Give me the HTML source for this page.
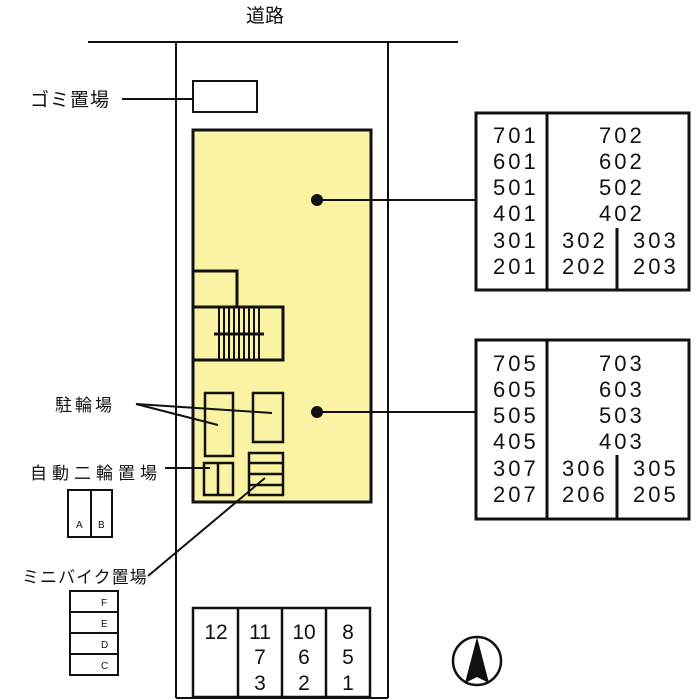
<!DOCTYPE html>
<html><head><meta charset="utf-8"><style>
html,body{margin:0;padding:0;background:#fff}
svg{display:block}
text{font-family:"Liberation Sans","Noto Sans CJK JP",sans-serif;fill:#111}
.n{font-size:22px;letter-spacing:3px}
</style></head><body>
<svg width="700" height="700" viewBox="0 0 700 700" xmlns="http://www.w3.org/2000/svg">
<g stroke="#111" fill="none" stroke-width="2">
<line x1="88" y1="42" x2="458" y2="42"/>
<line x1="176" y1="42" x2="176" y2="698"/>
<line x1="388" y1="42" x2="388" y2="698"/>
<line x1="176" y1="698" x2="388" y2="698"/>
<rect x="193" y="81" width="64" height="31"/>
<line x1="122" y1="99" x2="193" y2="99"/>
</g>
<text x="30" y="106" font-size="19" letter-spacing="1">ゴミ置場</text>
<text x="246" y="22" font-size="19">道路</text>
<rect x="193" y="130" width="178" height="372" fill="#fbf3a4" stroke="#111" stroke-width="3"/>
<g stroke="#111" fill="none" stroke-width="3">
<polyline points="193,271 237,271 237,307"/>
<rect x="193" y="307" width="90" height="53"/>
<line x1="214" y1="334" x2="264" y2="334"/>
</g>
<g stroke="#111" stroke-width="2">
<line x1="219" y1="307" x2="219" y2="360"/><line x1="224" y1="307" x2="224" y2="360"/>
<line x1="229" y1="307" x2="229" y2="360"/><line x1="234" y1="307" x2="234" y2="360"/>
<line x1="239" y1="307" x2="239" y2="360"/><line x1="244" y1="307" x2="244" y2="360"/>
<line x1="249" y1="307" x2="249" y2="360"/><line x1="254" y1="307" x2="254" y2="360"/>
<line x1="259" y1="307" x2="259" y2="360"/>
</g>
<g stroke="#111" fill="none" stroke-width="2.5">
<rect x="205" y="393" width="28" height="63"/>
<rect x="253" y="393" width="30" height="49"/>
<rect x="204" y="463" width="29" height="32"/>
<line x1="218" y1="463" x2="218" y2="495"/>
<rect x="249" y="453" width="34" height="42"/>
<line x1="249" y1="463" x2="283" y2="463"/><line x1="249" y1="474" x2="283" y2="474"/><line x1="249" y1="485" x2="283" y2="485"/>
</g>
<g stroke="#111" stroke-width="2" fill="none">
<line x1="136" y1="404" x2="218" y2="425"/>
<line x1="136" y1="404" x2="272" y2="413"/>
<line x1="165" y1="468" x2="210" y2="468"/>
<line x1="148" y1="576" x2="265" y2="478"/>
<line x1="317" y1="200" x2="476" y2="200"/>
<line x1="317" y1="412" x2="476" y2="412"/>
</g>
<circle cx="317" cy="200" r="6" fill="#111"/>
<circle cx="317" cy="412" r="6" fill="#111"/>
<text x="55" y="411" font-size="17" letter-spacing="3">駐輪場</text>
<text x="30" y="479" font-size="17" letter-spacing="5">自動二輪置場</text>
<text x="22" y="583" font-size="17" letter-spacing="1">ミニバイク置場</text>
<g stroke="#111" fill="none" stroke-width="2">
<rect x="68" y="490" width="44" height="47"/><line x1="91" y1="490" x2="91" y2="537"/>
<rect x="70" y="591" width="48" height="84"/>
<line x1="70" y1="612" x2="118" y2="612"/><line x1="70" y1="633" x2="118" y2="633"/><line x1="70" y1="654" x2="118" y2="654"/>
</g>
<g font-size="10">
<text x="76" y="528">A</text><text x="98" y="528">B</text>
<text x="101" y="606">F</text><text x="101" y="627">E</text><text x="101" y="648">D</text><text x="101" y="669">C</text>
</g>
<g stroke="#111" fill="none" stroke-width="3">
<rect x="476" y="113" width="213" height="177"/>
<line x1="547" y1="113" x2="547" y2="290"/><line x1="617" y1="228" x2="617" y2="290"/>
<rect x="476" y="340" width="213" height="179"/>
<line x1="547" y1="340" x2="547" y2="519"/><line x1="617" y1="455" x2="617" y2="519"/>
</g>
<g class="n">
<text x="493" y="143">701</text><text x="493" y="169">601</text><text x="493" y="195">501</text><text x="493" y="221">401</text><text x="493" y="248">301</text><text x="493" y="274">201</text>
<text x="599" y="143">702</text><text x="599" y="169">602</text><text x="599" y="195">502</text><text x="599" y="221">402</text>
<text x="562" y="248">302</text><text x="562" y="274">202</text><text x="633" y="248">303</text><text x="633" y="274">203</text>
<text x="493" y="371">705</text><text x="493" y="397">605</text><text x="493" y="423">505</text><text x="493" y="449">405</text><text x="493" y="476">307</text><text x="493" y="502">207</text>
<text x="599" y="371">703</text><text x="599" y="397">603</text><text x="599" y="423">503</text><text x="599" y="449">403</text>
<text x="562" y="476">306</text><text x="562" y="502">206</text><text x="633" y="476">305</text><text x="633" y="502">205</text>
</g>
<g stroke="#111" fill="none" stroke-width="2.5">
<rect x="193" y="608" width="177" height="89"/>
<line x1="238" y1="608" x2="238" y2="697"/><line x1="282" y1="608" x2="282" y2="697"/><line x1="326" y1="608" x2="326" y2="697"/>
</g>
<g font-size="21" text-anchor="middle">
<text x="216" y="639">12</text>
<text x="260" y="639">11</text><text x="260" y="664">7</text><text x="260" y="690">3</text>
<text x="304" y="639">10</text><text x="304" y="664">6</text><text x="304" y="690">2</text>
<text x="348" y="639">8</text><text x="348" y="664">5</text><text x="348" y="690">1</text>
</g>
<circle cx="477" cy="661" r="24" fill="none" stroke="#111" stroke-width="2.5"/>
<polygon points="477,637 465,683 477,677 489,683" fill="#111"/>
</svg>
</body></html>
